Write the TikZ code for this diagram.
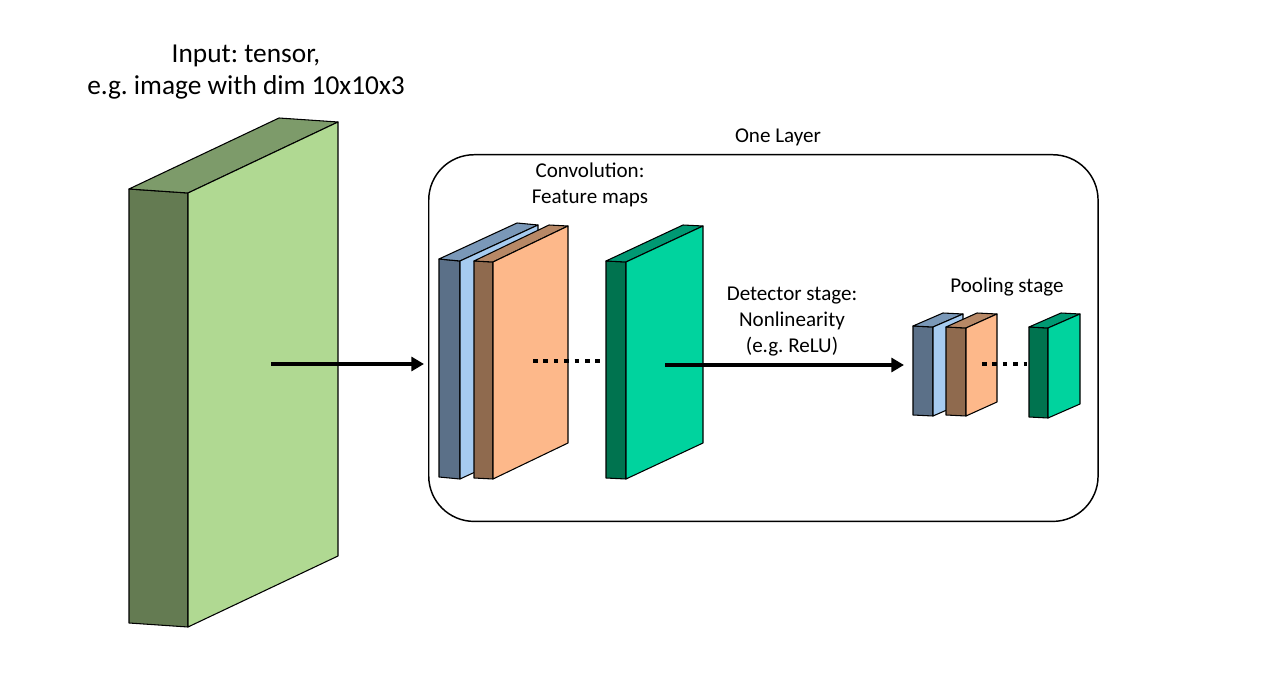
\documentclass[tikz,border=0pt]{standalone}
\usepackage{fontspec}
\setmainfont{Carlito}
\usetikzlibrary{arrows.meta}
\frenchspacing
\definecolor{inDark}{HTML}{647B52}
\definecolor{inTop}{HTML}{7D9B6A}
\definecolor{inLight}{HTML}{B0D992}
\definecolor{blDark}{HTML}{5B7088}
\definecolor{blTop}{HTML}{7A98B8}
\definecolor{blLight}{HTML}{A6CBF0}
\definecolor{brDark}{HTML}{8F6A4E}
\definecolor{brTop}{HTML}{B78866}
\definecolor{brLight}{HTML}{FDB88A}
\definecolor{grDark}{HTML}{00734F}
\definecolor{grTop}{HTML}{009973}
\definecolor{grLight}{HTML}{00D39E}
% #1 left, #2 top, #3 front width, #4 height, #5 slope, #6 dx, #7 dy, #8 colour prefix
\newcommand\slabbox[8]{%
  \filldraw[facestyle,fill=#8Dark] (#1,#2) -- ++(#3,#5) -- ++(0,#4) -- ++(-#3,-#5) -- cycle;
  \filldraw[facestyle,fill=#8Top] (#1,#2) -- ++(#3,#5) -- ++(#6,#7) -- ++(-#3,-#5) -- cycle;
  \filldraw[facestyle,fill=#8Light] ({#1+#3},{#2+#5}) -- ++(#6,#7) -- ++(0,#4) -- ++(-#6,-#7) -- cycle;
}
\tikzset{
  facestyle/.style={draw=black,line width=0.8pt,line join=round},
  bigtext/.style={font=\fontsize{20.5}{24.5}\selectfont\frenchspacing,align=center,inner sep=0pt},
  smalltext/.style={font=\fontsize{15.8}{19.5}\selectfont\frenchspacing,align=center,inner sep=0pt},
  flow/.style={line width=3pt,-{Triangle[length=9.5pt,width=10.5pt]}},
  gap/.style={line width=3pt,dash pattern=on 3.4pt off 4.4pt},
  layerbox/.style={draw=black,line width=1.1pt,rounded corners=34pt}
}
\begin{document}
\begin{tikzpicture}[x=0.75pt,y=-0.75pt]
\useasboundingbox (0,0) rectangle (1268,688);
% input
\slabbox{129}{189}{59}{434}{4}{150}{-71}{in}
\node[bigtext] (inlabel) at (246,72) {Input: tensor,\\e.g. image with dim 10x10x3};
% layer box
\node[layerbox,minimum width=502pt,minimum height=275pt,anchor=north west] (layer) at (428,154) {};
\node[smalltext] (layerlabel) at (778,137) {One Layer};
% convolution maps
\slabbox{439}{259}{21}{218}{2}{78}{-36}{bl}
\slabbox{474}{261}{19}{217}{1}{75}{-36}{br}
\slabbox{606}{261}{20}{217}{1}{77}{-36}{gr}
\node[smalltext] (convlabel) at (590,185) {Convolution:\\Feature maps};
\coordinate (d1a) at (533,361);
\coordinate (d1b) at (600,361);
\draw[gap] (d1a) -- (d1b);
% detector
\node[smalltext] (detlabel) at (792,322) {Detector stage:\\Nonlinearity\\(e.g. ReLU)};
% pooling maps
\slabbox{913}{326}{20}{89}{1}{30}{-13}{bl}
\slabbox{946}{327}{20}{88}{1}{31}{-14}{br}
\slabbox{1029}{327}{19}{90}{1}{32}{-14}{gr}
\node[smalltext] (poollabel) at (1007,287) {Pooling stage};
\coordinate (d2a) at (982,364);
\coordinate (d2b) at (1027,364);
\draw[gap] (d2a) -- (d2b);
% arrows
\coordinate (a1s) at (271,364);
\coordinate (a1e) at (424,364);
\coordinate (a2s) at (665,365);
\coordinate (a2e) at (904,365);
\draw[flow] (a1s) -- (a1e);
\draw[flow] (a2s) -- (a2e);
\end{tikzpicture}
\end{document}
